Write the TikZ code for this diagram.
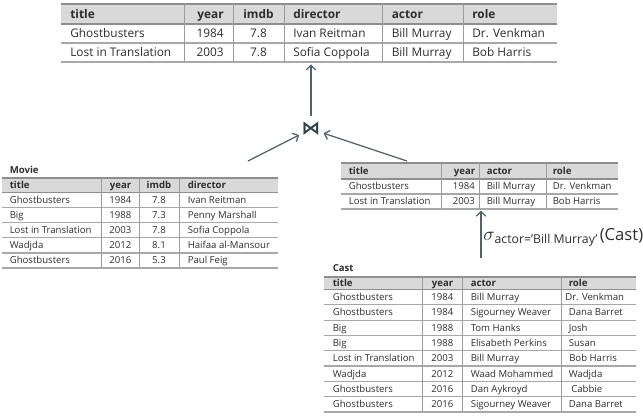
\documentclass[tikz,border=0pt]{standalone}
\usepackage{fontspec}
\setmainfont{Open Sans}
\newfontfamily\djv{DejaVu Sans}
\usetikzlibrary{arrows.meta,fit}
\definecolor{txt}{HTML}{2E2E2E}
\definecolor{hdr}{HTML}{D9D9D9}
\definecolor{hline}{HTML}{8E8E8E}
\definecolor{rline}{HTML}{A8A8A8}
\definecolor{vline}{HTML}{9C9C9C}
\definecolor{arr}{HTML}{56626A}
\definecolor{sym}{HTML}{34404A}
\tikzset{
  big/.style={inner sep=0pt, text=txt, font=\fontsize{8.9}{10}\selectfont, text height=6.35pt, text depth=0pt},
  bighd/.style={big, font=\fontsize{8.9}{10}\selectfont\bfseries},
  small/.style={inner sep=0pt, text=txt, font=\fontsize{7.2}{8}\selectfont, text height=5.14pt, text depth=0pt},
  smallhd/.style={small, font=\fontsize{7.2}{8}\selectfont\bfseries},
  hdrrule/.style={draw=hline, line width=1.1pt},
  rowrule/.style={draw=rline, line width=0.9pt},
  colrule/.style={draw=vline, line width=0.75pt},
  bigrule/.style={draw=hline, line width=1.3pt},
  flow/.style={draw=arr, line width=0.95pt, -{Straight Barb[length=3.5pt,width=7pt]}},
  joinsym/.style={circle, minimum size=19.5pt, inner sep=0pt, text=sym, font=\djv\bfseries\fontsize{14}{14}\selectfont},
  tablebox/.style={inner sep=0pt},
}
\begin{document}
\begin{tikzpicture}[x=0.75pt,y=-0.75pt]
\useasboundingbox (0,0) rectangle (643,418);

% ---------------- result table (top) ----------------
\fill[hdr] (61,4) rectangle (557,24);
\draw[bigrule] (61,4) -- (557,4) (61,24) -- (557,24);
\draw[bigrule, draw=rline] (61,43) -- (557,43) (61,62) -- (557,62);
\foreach \cx in {184.5,233,284,382,463} \draw[colrule] (\cx,4) -- (\cx,62);
\node[tablebox, fit={(61,4) (557,62)}] (res) {};
\node[bighd, anchor=west] (res-h-1) at (70,14) {title};
\node[bighd, anchor=east] (res-h-2) at (224,14) {year};
\node[bighd] (res-h-3) at (258.5,14) {imdb};
\node[bighd, anchor=west] (res-h-4) at (293,14) {director};
\node[bighd, anchor=west] (res-h-5) at (391.5,14) {actor};
\node[bighd, anchor=west] (res-h-6) at (472,14) {role};
\foreach \y/\t/\yr/\im/\d/\a/\r [count=\i] in {33.5/Ghostbusters/1984/7.8/Ivan Reitman/Bill Murray/Dr. Venkman, 52.5/Lost in Translation/2003/7.8/Sofia Coppola/Bill Murray/Bob Harris} {
  \node[big, anchor=west] (res-\i-1) at (70,\y) {\t};
  \node[big, anchor=east] (res-\i-2) at (224,\y) {\yr};
  \node[big] (res-\i-3) at (258.5,\y) {\im};
  \node[big, anchor=west] (res-\i-4) at (293,\y) {\d};
  \node[big, anchor=west] (res-\i-5) at (391.5,\y) {\a};
  \node[big, anchor=west] (res-\i-6) at (472,\y) {\r};
}

% ---------------- Movie table ----------------
\node[smallhd, anchor=west] (movielabel) at (9.5,170) {Movie};
\fill[hdr] (2,178) rectangle (278,192.3);
\draw[hdrrule] (2,178) -- (278,178) (2,192.3) -- (278,192.3);
\foreach \ry in {207.5,222.6,237.8,252.9,268} \draw[rowrule] (2,\ry) -- (278,\ry);
\foreach \cx in {101,139,179} \draw[colrule] (\cx,178) -- (\cx,268);
\node[tablebox, fit={(2,178) (278,268)}] (movie) {};
\node[smallhd, anchor=west] (mv-h-1) at (9.5,185.2) {title};
\node[smallhd, anchor=east] (mv-h-2) at (131.5,185.2) {year};
\node[smallhd] (mv-h-3) at (159,185.2) {imdb};
\node[smallhd, anchor=west] (mv-h-4) at (187.5,185.2) {director};
\foreach \y/\t/\yr/\im/\d [count=\i] in {199.9/Ghostbusters/1984/7.8/Ivan Reitman, 215/Big/1988/7.3/Penny Marshall, 230.2/Lost in Translation/2003/7.8/Sofia Coppola, 245.3/Wadjda/2012/8.1/Haifaa al-Mansour, 260.5/Ghostbusters/2016/5.3/Paul Feig} {
  \node[small, anchor=west] (mv-\i-1) at (9.5,\y) {\t};
  \node[small, anchor=east] (mv-\i-2) at (131.5,\y) {\yr};
  \node[small] (mv-\i-3) at (159,\y) {\im};
  \node[small, anchor=west] (mv-\i-4) at (187.5,\y) {\d};
}

% ---------------- selection result ----------------
\fill[hdr] (341,163) rectangle (618,179);
\draw[hdrrule] (341,163) -- (618,163) (341,179) -- (618,179);
\foreach \ry in {194,209} \draw[rowrule] (341,\ry) -- (618,\ry);
\foreach \cx in {441,479,546} \draw[colrule] (\cx,163) -- (\cx,209);
\node[tablebox, fit={(341,163) (618,209)}] (sel) {};
\node[smallhd, anchor=west] (sel-h-1) at (348.5,171) {title};
\node[smallhd, anchor=east] (sel-h-2) at (475.5,171) {year};
\node[smallhd, anchor=west] (sel-h-3) at (486.5,171) {actor};
\node[smallhd, anchor=west] (sel-h-4) at (552.5,171) {role};
\foreach \y/\t/\yr/\a/\r [count=\i] in {186.5/Ghostbusters/1984/Bill Murray/Dr. Venkman, 201.5/Lost in Translation/2003/Bill Murray/Bob Harris} {
  \node[small, anchor=west] (sel-\i-1) at (348.5,\y) {\t};
  \node[small, anchor=east] (sel-\i-2) at (475,\y) {\yr};
  \node[small, anchor=west] (sel-\i-3) at (486.5,\y) {\a};
  \node[small, anchor=west] (sel-\i-4) at (552.5,\y) {\r};
}

% ---------------- Cast table ----------------
\node[smallhd, anchor=west] (castlabel) at (332.5,268) {Cast};
\fill[hdr] (324,277) rectangle (636,289.5);
\draw[hdrrule] (324,277) -- (636,277) (324,289.5) -- (636,289.5);
\foreach \ry in {304.8,320.1,335.4,350.7,366,381.3,396.6,412} \draw[rowrule] (324,\ry) -- (636,\ry);
\foreach \cx in {422,462,561} \draw[colrule] (\cx,277) -- (\cx,412);
\node[tablebox, fit={(324,277) (636,412)}] (cast) {};
\node[smallhd, anchor=west] (ca-h-1) at (332.5,283.3) {title};
\node[smallhd, anchor=east] (ca-h-2) at (453.5,283.3) {year};
\node[smallhd, anchor=west] (ca-h-3) at (470.5,283.3) {actor};
\node[smallhd, anchor=west] (ca-h-4) at (568.5,283.3) {role};
\foreach \y/\t/\yr/\a/\r/\rx [count=\i] in {297.2/Ghostbusters/1984/Bill Murray/Dr. Venkman/565, 312.5/Ghostbusters/1984/Sigourney Weaver/Dana Barret/568.5, 327.8/Big/1988/Tom Hanks/Josh/568.5, 343.1/Big/1988/Elisabeth Perkins/Susan/568.5, 358.4/Lost in Translation/2003/Bill Murray/Bob Harris/569, 373.7/Wadjda/2012/Waad Mohammed/Wadjda/568.5, 389/Ghostbusters/2016/Dan Aykroyd/Cabbie/571, 404.3/Ghostbusters/2016/Sigourney Weaver/Dana Barret/568.5} {
  \node[small, anchor=west] (ca-\i-1) at (332.5,\y) {\t};
  \node[small, anchor=east] (ca-\i-2) at (453.5,\y) {\yr};
  \node[small, anchor=west] (ca-\i-3) at (470.5,\y) {\a};
  \node[small, anchor=west] (ca-\i-4) at (\rx,\y) {\r};
}

% ---------------- operators and connectors ----------------
\node[joinsym] (j) at (311,129) {⋈};
\coordinate (mvsrc) at (248,161);
\coordinate (selsrc) at (407,161);
\coordinate (castsrc) at (481,258);
\draw[flow, shorten >=1.5pt] (j) -- (j |- res.south);
\draw[flow] (mvsrc) -- (j);
\draw[flow] (selsrc) -- (j);
\draw[flow, shorten >=1pt] (castsrc) -- (castsrc |- sel.south);
\node[anchor=base west, inner sep=0pt, text=txt] (sig) at (483,240)
  {{\fontsize{15.5}{15}\selectfont$\sigma$}{\fontsize{9.2}{9}\selectfont\raisebox{-2.8pt}{actor=’Bill Murray’}}\,{\fontsize{12.5}{12}\selectfont(Cast)}};
\end{tikzpicture}
\end{document}
